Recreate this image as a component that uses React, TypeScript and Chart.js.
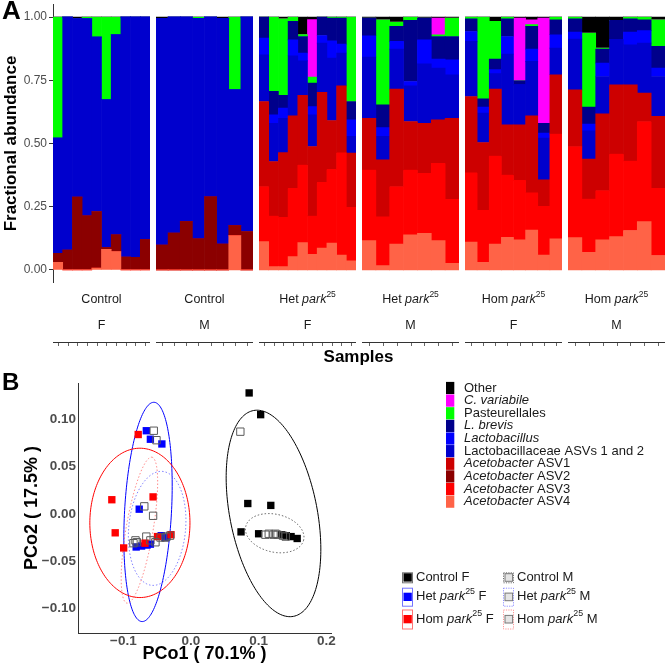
import React, { useEffect, useRef } from 'react';
import { Chart, registerables } from 'chart.js';
Chart.register(...registerables);

const FONT = '"Liberation Sans", Arial, Helvetica, sans-serif';

// ---------------- Panel A data ----------------
const facetGenotype = ['Control', 'Control', 'Het', 'Het', 'Hom', 'Hom'];
const facetSex = ['F', 'M', 'F', 'M', 'F', 'M'];
const facetSampleCounts = [10, 8, 10, 7, 8, 7];
const abundanceTicks = [0, 0.25, 0.5, 0.75, 1];

// stacking order, bottom to top
const taxa = [
  'Acetobacter ASV4', 'Acetobacter ASV3', 'Acetobacter ASV2', 'Acetobacter ASV1',
  'Lactobacillaceae ASVs 1 and 2', 'Lactobacillus', 'L. brevis', 'Pasteurellales',
  'C. variabile', 'Other',
];
const taxaColors = [
  '#FF6347', '#FF0000', '#8B0000', '#CD0000', '#0000CD', '#0000FF', '#00008B',
  '#00FF00', '#FF00FF', '#000000',
];

// samples: Control F (10), Control M (8), Het F (10), Het M (7), Hom F (8), Hom M (7)
const acetobacterASV4 = [
  0.030, 0, 0, 0, 0.007, 0.082, 0.073, 0, 0, 0,
  0, 0, 0, 0, 0, 0, 0.136, 0,
  0.112, 0.013, 0.013, 0.053, 0.108, 0.062, 0.086, 0.106, 0.059, 0.036,
  0.116, 0.017, 0.102, 0.139, 0.145, 0.116, 0.026,
  0.110, 0.030, 0.102, 0.129, 0.119, 0.158, 0.059, 0.123,
  0.128, 0.070, 0.119, 0.132, 0.156, 0.191, 0.057,
];
const acetobacterASV3 = [
  0, 0, 0, 0, 0, 0, 0, 0, 0, 0,
  0, 0, 0, 0, 0, 0, 0, 0,
  0.218, 0.201, 0.195, 0.270, 0.308, 0.152, 0.260, 0.292, 0.405, 0.212,
  0.280, 0.194, 0.228, 0.257, 0.238, 0.306, 0.254,
  0.275, 0.207, 0.349, 0.247, 0.235, 0.148, 0.194, 0.415,
  0.360, 0.211, 0.195, 0.327, 0.275, 0.396, 0.266,
];
const acetobacterASV2 = [
  0.036, 0.079, 0.288, 0.214, 0.224, 0.006, 0.066, 0.051, 0.050, 0.120,
  0.098, 0.146, 0.191, 0.123, 0.289, 0.102, 0.039, 0.152,
  0, 0, 0, 0, 0, 0, 0, 0, 0, 0,
  0, 0, 0, 0, 0, 0, 0,
  0, 0, 0, 0, 0, 0, 0, 0,
  0, 0, 0, 0, 0, 0, 0,
];
const acetobacterASV1 = [
  0, 0, 0, 0, 0, 0, 0, 0, 0, 0,
  0, 0, 0, 0, 0, 0, 0, 0,
  0.336, 0.215, 0.256, 0.286, 0.274, 0.274, 0.356, 0.193, 0.264, 0.214,
  0.204, 0.224, 0.385, 0.191, 0.197, 0.172, 0.320,
  0.301, 0.267, 0.264, 0.198, 0.220, 0.303, 0.103, 0.234,
  0.224, 0.157, 0.303, 0.273, 0.301, 0.112, 0.284,
];
const lactobacillaceae = [
  0.455, 0.921, 0.705, 0.779, 0.690, 0.585, 0.791, 0.949, 0.950, 0.880,
  0.897, 0.854, 0.809, 0.872, 0.711, 0.893, 0.537, 0.848,
  0.185, 0.151, 0.136, 0.238, 0.137, 0.125, 0.195, 0.247, 0.130, 0.066,
  0.242, 0.093, 0.158, 0.141, 0.235, 0.204, 0.172,
  0.218, 0.116, 0.061, 0.280, 0.158, 0.216, 0.165, 0.105,
  0.201, 0.112, 0.148, 0.178, 0.158, 0.198, 0.158,
];
const lactobacillus = [
  0, 0, 0, 0, 0, 0, 0, 0, 0, 0,
  0, 0, 0, 0, 0, 0, 0, 0,
  0.066, 0.033, 0.040, 0.063, 0.031, 0.033, 0.030, 0.068, 0.035, 0.066,
  0.084, 0.035, 0.031, 0.017, 0.095, 0.036, 0.059,
  0.039, 0.024, 0.016, 0.069, 0, 0.048, 0.020, 0.053,
  0.028, 0.027, 0.053, 0, 0.051, 0.049, 0.033,
];
const lBrevis = [
  0, 0, 0, 0, 0, 0, 0, 0, 0, 0,
  0, 0, 0, 0, 0, 0, 0, 0,
  0.083, 0.093, 0.050, 0.073, 0.065, 0.093, 0.073, 0.090, 0.103, 0.072,
  0.070, 0.090, 0.059, 0.242, 0.086, 0.089, 0.092,
  0.050, 0.033, 0.042, 0.070, 0.016, 0.090, 0.039, 0.059,
  0.052, 0.067, 0.055, 0.077, 0.052, 0.043, 0.086,
];
const pasteurellales = [
  0.479, 0, 0, 0.007, 0.079, 0.327, 0.070, 0, 0, 0,
  0, 0, 0, 0.005, 0, 0, 0.288, 0,
  0, 0.294, 0.303, 0.017, 0.008, 0.024, 0, 0.004, 0.004, 0.334,
  0, 0.336, 0.017, 0.013, 0, 0.007, 0.073,
  0.007, 0.323, 0.149, 0.007, 0, 0.007, 0, 0.011,
  0.007, 0.293, 0.004, 0, 0.007, 0.011, 0.105,
];
const cVariabile = [
  0, 0, 0, 0, 0, 0, 0, 0, 0, 0,
  0, 0, 0, 0, 0, 0, 0, 0,
  0, 0, 0, 0, 0, 0.227, 0, 0, 0, 0,
  0, 0, 0, 0, 0, 0.066, 0,
  0, 0, 0, 0, 0.248, 0.019, 0.416, 0,
  0, 0, 0, 0, 0, 0, 0,
];
const other = [
  0, 0, 0.007, 0, 0, 0, 0, 0, 0, 0,
  0.005, 0, 0, 0, 0, 0.005, 0, 0,
  0, 0, 0.007, 0, 0.069, 0.010, 0, 0, 0, 0,
  0.004, 0.011, 0.020, 0, 0.004, 0.004, 0.004,
  0, 0, 0.017, 0, 0.004, 0.011, 0.004, 0,
  0, 0.063, 0.123, 0.013, 0, 0, 0.011,
];
const taxaValues = [
  acetobacterASV4, acetobacterASV3, acetobacterASV2, acetobacterASV1,
  lactobacillaceae, lactobacillus, lBrevis, pasteurellales, cVariabile, other,
];

// ---------------- Panel B data ----------------
const groupNames = ['Control F', 'Control M', 'Het park25 F', 'Het park25 M', 'Hom park25 F', 'Hom park25 M'];
const ctrlF_pco1 = [0.086, 0.103, 0.084, 0.118, 0.074, 0.100, 0.134, 0.141, 0.148, 0.157];
const ctrlF_pco2 = [0.128, 0.105, 0.011, 0.009, -0.019, -0.021, -0.022, -0.023, -0.024, -0.026];
const ctrlM_pco1 = [0.073, 0.110, 0.122, 0.128, 0.136, 0.115, 0.140, 0.125];
const ctrlM_pco2 = [0.087, -0.022, -0.022, -0.022, -0.023, -0.021, -0.024, -0.021];
const hetF_pco1 = [-0.066, -0.060, -0.043, -0.0765, -0.081, -0.073, -0.060, -0.065, -0.044, -0.0375];
const hetF_pco2 = [0.088, 0.079, 0.074, 0.005, -0.035, -0.034, -0.032, -0.033, -0.023, -0.025];
const hetM_pco1 = [-0.055, -0.051, -0.069, -0.056, -0.082, -0.066, -0.038];
const hetM_pco2 = [0.088, 0.078, 0.008, -0.002, -0.028, -0.024, -0.025];
const homF_pco1 = [-0.078, -0.117, -0.056, -0.112, -0.0995, -0.0295, -0.0495, -0.068];
const homF_pco2 = [0.084, 0.015, 0.018, -0.020, -0.036, -0.022, -0.024, -0.031];
const homM_pco1 = [-0.031, -0.0525, -0.080, -0.060, -0.045, -0.085, -0.036];
const homM_pco2 = [-0.023, -0.030, -0.030, -0.028, -0.025, -0.031, -0.024];
const groupPco1 = [ctrlF_pco1, ctrlM_pco1, hetF_pco1, hetM_pco1, homF_pco1, homM_pco1];
const groupPco2 = [ctrlF_pco2, ctrlM_pco2, hetF_pco2, hetM_pco2, homF_pco2, homM_pco2];

// confidence ellipses: centre and two half-axis vectors (data units)
const ellipseCentre1 = [0.122, 0.1238, -0.0635, -0.050, -0.0755, -0.0762];
const ellipseCentre2 = [0.0005, -0.0204, 0.0021, -0.0153, -0.0095, -0.0172];
const ellipseAxisA1 = [0.0294, 0.0428, 0.009, 0.0074, 0.074, 0.0184];
const ellipseAxisA2 = [-0.1089, -0.0071, 0.116, 0.0603, 0, 0.0772];
const ellipseAxisB1 = [0.0635, -0.0062, 0.0346, 0.0419, 0, 0.0197];
const ellipseAxisB2 = [0.0085, -0.0195, -0.0014, -0.0021, 0.079, -0.0024];

const pco1Ticks = [-0.1, 0, 0.1, 0.2];
const pco2Ticks = [-0.1, -0.05, 0, 0.05, 0.1];

// ---------------- styles ----------------
const groupColors = ['#000000', '#000000', '#0000FF', '#0000FF', '#FF0000', '#FF0000'];
const groupFilled = [true, false, true, false, true, false];
const ellipseColors = ['#000000', 'rgba(60,60,60,0.8)', '#0000FF', 'rgba(80,80,255,0.7)', '#FF0000', 'rgba(255,90,90,0.7)'];

type Part = { t: string; i?: boolean; s?: boolean };

const park: Part[] = [{ t: 'park', i: true }, { t: '25', s: true }];
const genotypeParts = (g: string): Part[] =>
  g === 'Control' ? [{ t: 'Control' }] : [{ t: g + ' ' }, ...park];

const taxaLabelParts: Part[][] = [
  [{ t: 'Acetobacter', i: true }, { t: ' ASV4' }],
  [{ t: 'Acetobacter', i: true }, { t: ' ASV3' }],
  [{ t: 'Acetobacter', i: true }, { t: ' ASV2' }],
  [{ t: 'Acetobacter', i: true }, { t: ' ASV1' }],
  [{ t: 'Lactobacillaceae ASVs 1 and 2' }],
  [{ t: 'Lactobacillus', i: true }],
  [{ t: 'L. brevis', i: true }],
  [{ t: 'Pasteurellales' }],
  [{ t: 'C. variabile', i: true }],
  [{ t: 'Other' }],
];

const groupLabelParts: Part[][] = [
  [{ t: 'Control F' }],
  [{ t: 'Control M' }],
  [{ t: 'Het ' }, ...park, { t: ' F' }],
  [{ t: 'Het ' }, ...park, { t: ' M' }],
  [{ t: 'Hom ' }, ...park, { t: ' F' }],
  [{ t: 'Hom ' }, ...park, { t: ' M' }],
];

function drawRich(ctx: CanvasRenderingContext2D, parts: Part[], x: number, y: number, size: number,
  align: 'left' | 'center', color: string, bold = false) {
  const fontFor = (p: Part) =>
    `${p.i ? 'italic ' : ''}${bold ? 'bold ' : ''}${p.s ? size * 0.68 : size}px ${FONT}`;
  const widths = parts.map((p) => { ctx.font = fontFor(p); return ctx.measureText(p.t).width; });
  const total = widths.reduce((a, b) => a + b, 0);
  let cx = align === 'center' ? x - total / 2 : x;
  ctx.save();
  ctx.textAlign = 'left';
  ctx.textBaseline = 'middle';
  ctx.fillStyle = color;
  parts.forEach((p, k) => {
    ctx.font = fontFor(p);
    ctx.fillText(p.t, cx, p.s ? y - size * 0.42 : y);
    cx += widths[k];
  });
  ctx.restore();
}

const minus = (s: string) => s.replace('-', '\u2212');

// layout constants
const FACET_LEFT = [53, 156, 259, 362, 465, 568];
const FACET_W = 97;
const A_TOP = -20;
const A_H = 385;
const B_TOP = 360;
const B_H = 310;

function facetConfig(f: number): any {
  const start = facetSampleCounts.slice(0, f).reduce((a, b) => a + b, 0);
  const n = facetSampleCounts[f];
  const labels = Array.from({ length: n }, (_, i) => `S${start + i + 1}`);
  const first = f === 0;
  const plugin = {
    id: 'facetStrip' + f,
    afterDraw(chart: any) {
      const ctx = chart.ctx as CanvasRenderingContext2D;
      const { left, right } = chart.chartArea;
      const cx = (left + right) / 2;
      const off = -A_TOP;
      drawRich(ctx, genotypeParts(facetGenotype[f]), cx, 300 + off, 12.5, 'center', '#1a1a1a');
      drawRich(ctx, [{ t: facetSex[f] }], cx, 326 + off, 12.5, 'center', '#1a1a1a');
      ctx.save();
      ctx.strokeStyle = '#333333';
      ctx.lineWidth = 1;
      ctx.beginPath();
      ctx.moveTo(left, 342.5 + off);
      ctx.lineTo(right, 342.5 + off);
      ctx.stroke();
      ctx.strokeStyle = '#666666';
      ctx.beginPath();
      for (let i = 0; i < n; i++) {
        const x = Math.round(chart.scales.x.getPixelForValue(i)) + 0.5;
        ctx.moveTo(x, 343 + off);
        ctx.lineTo(x, 346 + off);
      }
      ctx.stroke();
      ctx.restore();
      if (first) {
        drawRich(ctx, [{ t: 'A' }], 2, 12 + off, 26, 'left', '#000', true);
        drawRich(ctx, [{ t: 'Samples' }], 358.5, 357 + off, 17, 'center', '#000', true);
      }
    },
  };
  const yScale: any = {
    stacked: true,
    min: -0.05,
    max: 1.05,
    display: first,
  };
  if (first) {
    Object.assign(yScale, {
      afterFit: (s: any) => { s.width = FACET_LEFT[0]; },
      afterBuildTicks: (s: any) => { s.ticks = abundanceTicks.map((v) => ({ value: v })); },
      ticks: {
        callback: (v: any) => Number(v).toFixed(2),
        color: '#4d4d4d',
        font: { family: FONT, size: 12 },
        padding: 2,
      },
      grid: { display: true, drawOnChartArea: false, drawTicks: true, tickLength: 4, color: '#333333' },
      border: { display: true, color: '#333333', width: 1 },
      title: {
        display: true,
        text: 'Fractional abundance',
        color: '#000',
        font: { family: FONT, size: 17, weight: 'bold' },
        padding: { top: 1.5, bottom: 0 },
      },
    });
  }
  return {
    type: 'bar',
    data: {
      labels,
      datasets: taxa.map((name, k) => ({
        label: name,
        data: taxaValues[k].slice(start, start + n),
        backgroundColor: taxaColors[k],
        borderWidth: 0,
        categoryPercentage: 1,
        barPercentage: 1,
      })),
    },
    options: {
      animation: false,
      responsive: false,
      maintainAspectRatio: false,
      events: [],
      layout: {
        padding: {
          left: first ? 0 : FACET_LEFT[f],
          right: 670 - FACET_LEFT[f] - FACET_W,
          top: 4.4 - A_TOP,
          bottom: A_H + A_TOP - 282.6,
        },
      },
      plugins: { legend: { display: false }, tooltip: { enabled: false } },
      scales: {
        x: { stacked: true, display: false },
        y: yScale,
      },
    },
    plugins: [plugin],
  };
}

function pcoaConfig(): any {
  const off = -B_TOP;
  const plugin = {
    id: 'pcoaExtras',
    beforeDatasetsDraw(chart: any) {
      const ctx = chart.ctx as CanvasRenderingContext2D;
      const xs = chart.scales.x;
      const ys = chart.scales.y;
      ctx.save();
      for (let g = 0; g < groupNames.length; g++) {
        ctx.beginPath();
        const steps = 180;
        for (let k = 0; k <= steps; k++) {
          const t = (k / steps) * Math.PI * 2;
          const vx = ellipseCentre1[g] + ellipseAxisA1[g] * Math.cos(t) + ellipseAxisB1[g] * Math.sin(t);
          const vy = ellipseCentre2[g] + ellipseAxisA2[g] * Math.cos(t) + ellipseAxisB2[g] * Math.sin(t);
          const px = xs.getPixelForValue(vx);
          const py = ys.getPixelForValue(vy);
          if (k === 0) ctx.moveTo(px, py); else ctx.lineTo(px, py);
        }
        ctx.closePath();
        ctx.strokeStyle = ellipseColors[g];
        ctx.lineWidth = 1;
        ctx.setLineDash(groupFilled[g] ? [] : [1.5, 2]);
        ctx.stroke();
      }
      ctx.restore();
    },
    afterDraw(chart: any) {
      const ctx = chart.ctx as CanvasRenderingContext2D;
      drawRich(ctx, [{ t: 'B' }], 2, 383 + off, 24, 'left', '#000', true);
      // taxa legend (top to bottom = reverse stacking order)
      ctx.save();
      for (let r = 0; r < taxa.length; r++) {
        const k = taxa.length - 1 - r;
        const cy = 388 + r * 12.63 + off;
        ctx.fillStyle = taxaColors[k];
        ctx.fillRect(446, cy - 6.1, 8.3, 12.2);
        drawRich(ctx, taxaLabelParts[k], 464, cy, 13, 'left', '#1a1a1a');
      }
      // group legend
      const rowY = [577.3, 596.7, 619];
      const keyH = [10, 18, 19];
      for (let g = 0; g < groupNames.length; g++) {
        const row = Math.floor(g / 2);
        const col = g % 2;
        const kx = col === 0 ? 402 : 503;
        const tx = col === 0 ? 416 : 517;
        const cy = rowY[row] + off;
        const h = keyH[row];
        ctx.save();
        ctx.strokeStyle = ellipseColors[g];
        ctx.globalAlpha = groupFilled[g] ? 0.55 : 0.9;
        ctx.lineWidth = 1;
        ctx.setLineDash(groupFilled[g] ? [] : [1.2, 1.2]);
        ctx.strokeRect(kx + 0.5, cy - h / 2 + 0.5, 10, h);
        ctx.restore();
        if (groupFilled[g]) {
          ctx.fillStyle = groupColors[g];
          ctx.fillRect(kx + 1.5, cy - 4, 8.3, 8.3);
        } else {
          ctx.fillStyle = '#e4e4e4';
          ctx.fillRect(kx + 2, cy - 3.6, 7.6, 7.6);
          ctx.strokeStyle = '#777777';
          ctx.lineWidth = 1;
          ctx.strokeRect(kx + 2, cy - 3.6, 7.6, 7.6);
        }
        drawRich(ctx, groupLabelParts[g], tx, cy, 13, 'left', '#1a1a1a');
      }
      ctx.restore();
    },
  };
  return {
    type: 'scatter',
    data: {
      datasets: groupNames.map((name, g) => ({
        label: name,
        data: groupPco1[g].map((x, j) => ({ x, y: groupPco2[g][j] })),
        pointStyle: 'rect',
        pointRadius: 5.2,
        pointHoverRadius: 5.2,
        backgroundColor: groupFilled[g] ? groupColors[g] : 'rgba(255,255,255,0)',
        borderColor: groupFilled[g] ? groupColors[g] : '#5a5a5a',
        borderWidth: groupFilled[g] ? 0 : 1,
        order: groupNames.length - g,
      })),
    },
    options: {
      animation: false,
      responsive: false,
      maintainAspectRatio: false,
      events: [],
      layout: { padding: { left: 0, right: 670 - 331, top: 383 - B_TOP, bottom: 0 } },
      plugins: { legend: { display: false }, tooltip: { enabled: false } },
      scales: {
        x: {
          type: 'linear',
          min: -0.167,
          max: 0.207,
          afterFit: (s: any) => { s.height = B_TOP + B_H - 633; },
          afterBuildTicks: (s: any) => { s.ticks = pco1Ticks.map((v) => ({ value: v })); },
          ticks: {
            callback: (v: any) => minus(Number(v).toFixed(1)),
            color: '#4d4d4d',
            font: { family: FONT, size: 13.5, weight: 'bold' },
            padding: 0,
            maxRotation: 0,
          },
          grid: { display: false, drawTicks: false },
          border: { display: true, color: '#333333', width: 1 },
          title: {
            display: true,
            text: 'PCo1 ( 70.1% )',
            color: '#000',
            font: { family: FONT, size: 18, weight: 'bold' },
            padding: { top: 0, bottom: 5.5 },
          },
        },
        y: {
          type: 'linear',
          min: -0.126,
          max: 0.1385,
          afterFit: (s: any) => { s.width = 78; },
          afterBuildTicks: (s: any) => { s.ticks = pco2Ticks.map((v) => ({ value: v })); },
          ticks: {
            callback: (v: any) => minus(Number(v).toFixed(2)),
            color: '#4d4d4d',
            font: { family: FONT, size: 13.5, weight: 'bold' },
            padding: 2,
          },
          grid: { display: false, drawTicks: false },
          border: { display: true, color: '#333333', width: 1 },
          title: {
            display: true,
            text: 'PCo2 ( 17.5% )',
            color: '#000',
            font: { family: FONT, size: 18, weight: 'bold' },
            padding: { top: 21, bottom: 0 },
          },
        },
      },
    },
    plugins: [plugin],
  };
}

export default function App() {
  const facetRefs = useRef<(HTMLCanvasElement | null)[]>([]);
  const pcoaRef = useRef<HTMLCanvasElement | null>(null);

  useEffect(() => {
    const charts: Chart[] = [];
    facetSampleCounts.forEach((_, f) => {
      const c = facetRefs.current[f];
      if (c) charts.push(new Chart(c, facetConfig(f)));
    });
    if (pcoaRef.current) charts.push(new Chart(pcoaRef.current, pcoaConfig()));
    return () => charts.forEach((c) => c.destroy());
  }, []);

  const canvasStyle = (top: number, h: number): React.CSSProperties => ({
    position: 'absolute', left: 0, top, width: 670, height: h, display: 'block',
  });

  return (
    <div style={{ position: 'absolute', left: 0, top: 0, width: 670, height: 670, overflow: 'hidden', background: '#fff' }}>
      {facetSampleCounts.map((_, f) => (
        <canvas
          key={f}
          ref={(el) => { facetRefs.current[f] = el; }}
          width={670}
          height={A_H}
          style={canvasStyle(A_TOP, A_H)}
        />
      ))}
      <canvas ref={pcoaRef} width={670} height={B_H} style={canvasStyle(B_TOP, B_H)} />
    </div>
  );
}
